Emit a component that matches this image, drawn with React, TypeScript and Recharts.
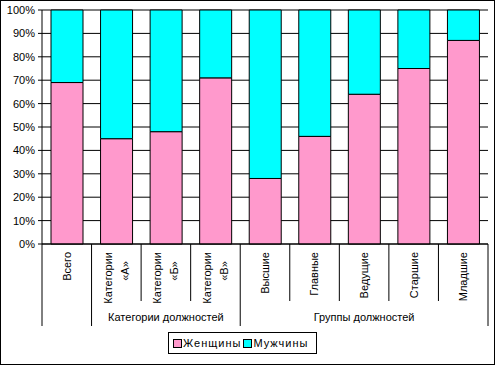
import { BarChart, Bar, XAxis, YAxis, CartesianGrid, Legend } from 'recharts';

const categories = ['Всего', 'Категории «А»', 'Категории «Б»', 'Категории «В»', 'Высшие', 'Главные', 'Ведущие', 'Старшие', 'Младшие'];
const groups = ['', 'Категории должностей', 'Категории должностей', 'Категории должностей', 'Группы должностей', 'Группы должностей', 'Группы должностей', 'Группы должностей', 'Группы должностей'];
const women = [69, 45, 48, 71, 28, 46, 64, 75, 87];
const men = [31, 55, 52, 29, 72, 54, 36, 25, 13];
const yTicks = [0, 10, 20, 30, 40, 50, 60, 70, 80, 90, 100];

const data = categories.map((name, i) => ({ name, women: women[i], men: men[i] }));

const W = 495;
const H = 365;
const PLOT_L = 42;
const PLOT_R = 488;
const FONT = '"Liberation Sans", Arial, sans-serif';

function CategoryTick(props: any) {
  const { x, y, index } = props;
  const bw = (PLOT_R - PLOT_L) / categories.length;
  const name = categories[index];
  const sp = name.indexOf(' ');
  const lines = name.includes('«') ? [name.slice(0, sp), name.slice(sp + 1)] : [name];
  const left = x - bw / 2;
  const groupStart = index === 0 || groups[index] !== groups[index - 1];
  const isLast = index === categories.length - 1;

  // group label sits under the middle category of its run
  let s = index;
  while (s > 0 && groups[s - 1] === groups[index]) s--;
  let e = index;
  while (e < groups.length - 1 && groups[e + 1] === groups[index]) e++;
  const showGroup = groups[index] !== '' && index === (s + e) / 2;

  return (
    <g>
      <line x1={left} x2={left} y1={y} y2={y + (groupStart ? 82 : 57)} stroke="#000" />
      {isLast && <line x1={x + bw / 2} x2={x + bw / 2} y1={y} y2={y + 82} stroke="#000" />}
      {lines.length === 1 ? (
        <text transform={`translate(${x},${y + 8}) rotate(-90)`} textAnchor="end" dy="0.35em" fontSize={11} fill="#000" fontFamily={FONT}>
          {lines[0]}
        </text>
      ) : (
        <>
          <text transform={`translate(${x - 8.5},${y + 8}) rotate(-90)`} textAnchor="end" dy="0.35em" fontSize={11} fill="#000" fontFamily={FONT}>
            {lines[0]}
          </text>
          <text transform={`translate(${x + 8.5},${y + 27}) rotate(-90)`} textAnchor="middle" dy="0.35em" fontSize={11} fill="#000" fontFamily={FONT}>
            {lines[1]}
          </text>
        </>
      )}
      {showGroup && (
        <text x={x} y={y + 77} textAnchor="middle" fontSize={11} fill="#000" fontFamily={FONT}>
          {groups[index]}
        </text>
      )}
    </g>
  );
}

function LegendBox(props: any) {
  const items = props.payload || [];
  return (
    <div style={{ border: '1px solid #000', boxSizing: 'border-box', width: 149, height: 22, display: 'flex', alignItems: 'center', paddingLeft: 4, fontFamily: FONT, fontSize: 11, letterSpacing: 1, color: '#000', background: '#fff' }}>
      {items.map((it: any) => (
        <span key={it.value} style={{ display: 'flex', alignItems: 'center', marginRight: 2 }}>
          <span style={{ width: 7, height: 7, background: it.color, border: '1px solid #000', marginRight: 1 }} />
          {it.value}
        </span>
      ))}
    </div>
  );
}

export default function App() {
  return (
    <div style={{ position: 'absolute', left: 0, top: 0, width: W, height: H, background: '#fff' }}>
      <BarChart width={W} height={H} data={data} margin={{ top: 10, right: W - PLOT_R, left: 0, bottom: 37 }} barSize={32}>
        <CartesianGrid vertical={false} stroke="#000" strokeWidth={1} />
        <XAxis dataKey="name" height={84} interval={0} tickLine={false} tickSize={0} tickMargin={0} axisLine={{ stroke: '#000' }} tick={<CategoryTick />} />
        <YAxis width={PLOT_L} domain={[0, 100]} ticks={yTicks} tickFormatter={(v: number) => `${v}%`} tick={{ fontSize: 11, fill: '#000', fontFamily: FONT }} tickLine={{ stroke: '#000' }} tickSize={4} tickMargin={3} axisLine={{ stroke: '#000' }} />
        <YAxis yAxisId="right" orientation="right" width={0} tick={false} tickLine={false} axisLine={{ stroke: '#000' }} />
        <Legend content={<LegendBox />} layout="horizontal" verticalAlign="middle" align="center" wrapperStyle={{ position: 'absolute', left: 168, top: 332, width: 149, height: 22 }} />
        <Bar dataKey="women" name="Женщины" stackId="a" fill="#FF99CC" stroke="#000" strokeWidth={1} isAnimationActive={false} />
        <Bar dataKey="men" name="Мужчины" stackId="a" fill="#00FFFF" stroke="#000" strokeWidth={1} isAnimationActive={false} />
      </BarChart>
      <div style={{ position: 'absolute', left: 0, top: 0, width: W, height: H, border: '1px solid #000', boxSizing: 'border-box', pointerEvents: 'none' }} />
    </div>
  );
}
